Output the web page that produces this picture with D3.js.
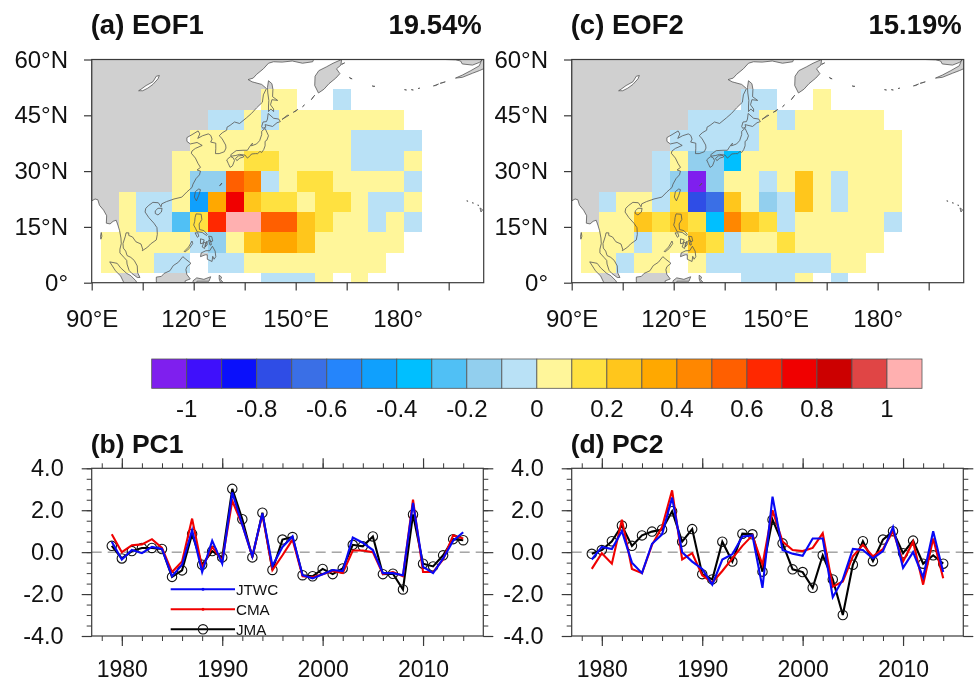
<!DOCTYPE html>
<html>
<head>
<meta charset="utf-8">
<script src="https://d3js.org/d3.v7.min.js"></script>
<style>
body { margin: 0; background: #fff; }
svg { filter: blur(0.4px); }
text { font-family: "Liberation Sans", Arial, sans-serif; fill: #111; }
</style>
</head>
<body>
<script>
const _ = null;

// colour levels of the shared label bar
const levels = [-1, -0.9, -0.8, -0.7, -0.6, -0.5, -0.4, -0.3, -0.2, -0.1, 0, 0.1, 0.2, 0.3, 0.4, 0.5, 0.6, 0.7, 0.8, 0.9, 1];
const levelColors = ["#7f1fee", "#3f10fb", "#0a10fb", "#2f4de6", "#3a6fe6", "#2585fb", "#10a0fd", "#00bfff", "#50c0f5", "#92cfee", "#b9e1f6",
  "#fff69a", "#ffe140", "#ffc61c", "#ffa800", "#ff8700", "#ff5f00", "#ff2800", "#f00000", "#cc0000", "#e04545", "#ffb0b0"];
const barLabels = [-1, -0.8, -0.6, -0.4, -0.2, 0, 0.2, 0.4, 0.6, 0.8, 1];

// EOF loadings, north to south, west to east
const eof1 = [
  [_, _, _, _, _, _, _, _, _, .05, .05, _, _, -.05, _, _, _, _],
  [_, _, _, _, _, _, -.05, -.05, .05, -.05, .05, .05, .05, .05, .05, .05, .05, _],
  [_, _, _, _, _, .05, .05, .05, .05, .05, .05, .05, .05, .05, -.05, -.05, -.05, -.05],
  [_, _, _, _, .05, .05, .05, .05, .15, .15, .05, .05, .05, .05, -.05, -.05, -.05, .05],
  [_, _, _, _, .05, -.15, -.15, .55, .45, -.05, .05, .15, .15, .05, .05, .05, .05, -.05],
  [_, .05, -.05, -.05, .05, -.45, .35, .75, .25, .15, .15, .05, .15, .15, .05, -.05, -.05, .05],
  [_, .05, -.05, -.05, -.25, .15, .65, 1.05, 1.05, .55, .55, .25, .15, .05, .05, -.05, .05, -.05],
  [.05, .05, .05, .05, .05, -.05, -.15, .05, .25, .35, .35, .25, .05, .05, .05, .05, .05, _],
  [.05, .05, .05, -.05, -.05, _, -.05, -.05, .05, .05, .05, .05, .05, .05, .05, .05, _, _],
  [_, _, _, _, _, _, _, _, _, -.05, -.05, -.05, .05, _, .05, _, _, _]
];
const eof2 = [
  [_, _, _, _, _, _, _, _, _, -.05, -.05, _, _, .05, _, _, _, _],
  [_, _, _, _, _, _, -.05, -.05, -.05, -.05, .05, -.05, .05, .05, .05, .05, .05, _],
  [_, _, _, _, _, -.05, -.05, -.05, -.05, -.05, .05, .05, .05, .05, .05, .05, .05, .05],
  [_, _, _, _, -.05, .05, -.15, -.15, -.35, .05, .05, .05, .05, .05, .05, .05, .05, .05],
  [_, _, _, _, -.05, -.15, -1.05, -.15, .05, .05, -.05, .05, .25, .05, -.05, .05, .05, .05],
  [_, -.05, .05, .05, -.05, .15, -.75, -.65, .25, .05, -.15, -.05, .25, .05, -.05, .05, .05, .05],
  [_, .05, .05, .25, .15, .25, .15, -.35, .45, .25, .15, -.05, .05, .05, .05, .05, .05, -.05],
  [.05, .05, .05, -.05, .05, .05, .25, .15, -.05, .05, .05, .15, .05, .05, .05, .05, .05, _],
  [.05, .05, -.05, .05, .05, _, .05, -.05, -.05, -.05, -.05, -.05, -.05, -.05, .05, .05, _, _],
  [_, _, _, _, _, _, _, _, _, -.05, -.05, -.05, .05, _, -.05, _, _, _]
];

// time series
const years = [1979, 1980, 1981, 1982, 1983, 1984, 1985, 1986, 1987, 1988, 1989, 1990, 1991, 1992, 1993, 1994, 1995, 1996, 1997, 1998, 1999, 2000, 2001, 2002, 2003, 2004, 2005, 2006, 2007, 2008, 2009, 2010, 2011, 2012, 2013, 2014];
const pc1Jma = [.3, -.3, .05, .2, .2, .15, -1.18, -.87, .87, -.6, .05, -.25, 3.02, 1.57, -.25, 1.88, -.85, .6, .72, -1.1, -1.15, -.8, -1.05, -.78, .35, .28, .75, -1.05, -1.03, -1.78, 1.8, -.55, -.68, -.15, .62, .57];
const pc1Cma = [.85, 0, .33, .37, .62, .2, -.95, -.45, 1.6, -.75, .25, -.4, 2.45, 1.3, -.2, 1.8, -.85, -.15, .6, -1.15, -1.2, -1.05, -.9, -1, .08, .08, 0, -1.05, -.95, -1.15, 2.5, -.95, -.95, -.35, .8, .65];
const pc1Jtwc = [.5, -.35, .1, -.05, .25, .15, -1.15, -.6, 1.05, -.95, .55, -.55, 2.85, 1.3, -.2, 1.85, -.65, .25, .75, -1.1, -1.25, -1.05, -.85, -.9, .7, .45, .1, -1, -1, -1.1, 2.35, -.7, -1, -.3, .55, .95];
const pc2Jma = [-.08, .1, .52, 1.27, .3, .8, .98, 1.08, 1.95, .5, 1.1, -1.05, -1.3, .5, -.45, .88, .85, -.93, 1.55, .42, -.82, -.95, -1.7, -.15, -1.3, -3, -.6, .52, -.43, .6, 1, -.05, .55, -.55, -.15, -.55];
const pc2Cma = [-.8, -.05, -.55, 1.55, -.8, -1, .35, 1.2, 2.95, -.35, -.05, -1.1, -1.45, -.9, -.3, .3, .8, -.6, 2, .5, .1, .05, .2, .9, -1.65, -1.4, -.2, .35, -.2, .15, 1, -.45, .5, -1.55, .65, -1.25];
const pc2Jtwc = [-.35, .25, .15, 1, -.5, -1, .4, .85, 2.6, 0, -.45, -.8, -1.55, -.35, -.1, .75, .8, -1.7, 2.65, .1, -.07, -.17, .65, .65, -2.15, -1.3, .15, .1, -.3, .05, 1.2, -.75, 0, -1.2, 1, -.95];

const lonTicks = [90, 105, 120, 135, 150, 165, 180, 195];
const lonLabels = { 90: "90°E", 120: "120°E", 150: "150°E", 180: "180°" };
const latTicks = [0, 15, 30, 45, 60];
const latLabels = { 0: "0°", 15: "15°N", 30: "30°N", 45: "45°N", 60: "60°N" };
const yearTicks = [1980, 1990, 2000, 2010];
const valueTicks = [-4, -2, 0, 2, 4];

// land, lon/lat
const landPolys = [
  // mainland asia
  [[90,60],[90,22],[91,22.5],[91.8,22.3],[92.3,20.8],[93.5,19.5],[94.4,18],[94.3,16],[95.4,15.8],[96.3,16.5],[97.2,16.8],[97.7,15.5],[98.2,14],[98.6,12],[98.7,10.5],[98.3,9],[98.3,8],[99.5,6.8],[100.3,6],[100.4,5],[101,3.3],[101.8,2.5],[103.4,1.4],[104.2,1.4],[103.5,2.7],[103.4,4.5],[102.5,6],[101.5,6.8],[100.4,7.3],[100,8.5],[99.3,9.3],[99.2,10.5],[99.9,12.5],[100.1,13.4],[100.9,13.4],[100.9,12.7],[102,12.3],[103,11],[104.5,10.4],[105,9],[104.9,8.6],[106.5,9.6],[107.3,10.4],[109,11.5],[109.3,13],[109.2,14.8],[108.3,16],[106.8,17.5],[105.7,19],[105.9,20],[106.8,20.8],[108,21.6],[109.6,21.5],[110.4,20.4],[110.6,21.2],[112,21.8],[113.6,22.3],[114.2,22.5],[116.5,23],[118,24.4],[119.5,25.6],[119.8,26.5],[120.7,28],[121.7,29],[122,30],[121,30.3],[122,31],[121.3,32],[120.5,33.5],[119.3,34.8],[119.5,35.4],[120.5,36.1],[122.5,36.9],[121,37.7],[119,37.3],[118,38],[118,39],[119.5,39.8],[121.3,40.8],[121.8,40],[121.2,38.8],[122.6,39.5],[124.3,40],[125,39.6],[125.4,38.6],[125,37.8],[126.5,37.5],[126.5,36],[126.4,34.7],[127.5,34.7],[129,35.2],[129.5,36.2],[129.4,37],[128.3,38.8],[127.5,39.5],[128.4,40.3],[129.7,41],[129.8,41.8],[130.7,42.3],[132,43.2],[133.5,42.8],[135.5,44.3],[137,45.5],[138.5,47],[140.2,48.5],[140.5,50.5],[141.4,52.2],[140,53.3],[138,53.8],[137.2,54],[136,54.6],[137.5,55],[138.5,56],[140.5,57.5],[142,59],[143.5,59.4],[146,59.3],[149,59.6],[152,59],[155,59.4],[155.5,60.5],[90,60.5]],
  // kamchatka
  [[163.5,60],[161,59],[159,58],[156.8,57],[155.7,55.5],[155.6,53],[156.7,51],[158.3,52],[159.8,53.5],[161.8,55],[163,56.2],[162,57.5],[163.3,58.5],[163.5,60]],
  // alaska
  [[194,60.5],[194,60],[197,59.9],[198.5,59.6],[199,58.8],[202,58.5],[204,59.2],[205,60],[206,60],[206,57.8],[204,57],[202,56.3],[199,55.2],[197,55],[199,55.8],[201.5,57],[204,58.3],[205,60.5]],
  // sakhalin, japan, taiwan and the rest of the islands
  [[142,54.3],[143,53.5],[143.3,52],[143.2,50],[144.7,49],[143,49.2],[142.6,47.8],[143.5,46.7],[143.5,46],[142.7,46.7],[142,46],[142,47.5],[142.1,49],[141.8,51],[141.7,52.5]],
  [[140.3,41.5],[141.2,41.8],[141,42.5],[143.2,42],[144.5,43],[145.5,43.3],[145,44],[143.5,44.2],[141.9,45.5],[141.7,44],[141.4,43.3],[140.4,43.2],[140,42]],
  [[141,41.5],[141.5,40.5],[142,39.5],[141.5,38.3],[141,38],[141,36.8],[140.6,35.8],[140,35],[139.5,35.3],[138.8,34.7],[138.2,34.7],[137,34.6],[136.8,34.3],[135.8,33.5],[135.1,34.3],[133.5,34.5],[132.4,34.2],[131,34],[130.9,34.4],[132.5,35.5],[134.5,35.6],[135.8,35.6],[136.2,36.2],[136.8,37],[137.3,37.5],[137,36.8],[138.5,37.3],[139.4,38.2],[140,39.8],[140,40.7]],
  [[130.9,33.9],[131.7,33.5],[132,32.8],[131.4,31.4],[130.7,31],[130.2,32],[129.7,33],[130.4,33.6]],
  [[132.3,33.4],[132.7,32.8],[133.6,33.5],[134.7,33.8],[134.5,34.2],[133.2,34.1]],
  [[121.5,25.2],[122,25],[121.5,23.5],[120.8,22],[120.2,23],[120.5,24.5]],
  [[108.7,19.3],[109.5,20],[110.7,20],[110.5,19],[109.5,18.2],[108.7,18.6]],
  [[120.7,18.5],[122.2,18.4],[122.4,17],[121.6,15.8],[121.7,14.3],[123,14],[124,13],[123.8,12.7],[122.5,13.5],[121,13.7],[120.6,14.5],[120,15.5],[120.3,16.5],[120.4,17.5]],
  [[120.4,13.4],[121.2,13.4],[121.5,12.5],[121.1,12.2]],
  [[124.4,12.5],[125.3,12.4],[125.6,11.2],[125,11]],
  [[124.4,11.4],[125,11.2],[125.2,10.2],[124.8,10.1]],
  [[122,11.8],[123.1,11.5],[122.7,10.6],[122,10.5]],
  [[123,10.9],[123.5,10.8],[123.2,9.2],[122.5,9.6]],
  [[123.9,11.2],[124,10.2],[123.4,9.6]],
  [[123.6,8.6],[124.7,8.6],[125.5,9.8],[126.3,8.5],[126.5,7],[126,6.3],[125.6,7.1],[125.4,5.7],[124,6.3],[124,7.5],[123.4,7.5],[122,7],[122.2,8]],
  [[117.2,8.4],[118.5,9.6],[119.5,11.2],[119.7,10.5],[118.7,9.2],[117.5,8.3]],
  [[109,1.5],[110.5,1.7],[111.3,2.5],[113,3.2],[114,4.6],[115.5,5.5],[116.8,7],[117.7,6.3],[119.2,5.2],[118,4.3],[117.7,3.5],[118,2.2],[119,1],[117.5,.5],[117.4,-1],[109.2,-1],[109,.5]],
  [[95.3,5.6],[97.5,5.2],[98.5,4],[100.3,2.5],[101.5,1.9],[103,.5],[103.8,-1],[100,-1],[98.5,1.8],[97,3.2]],
  [[119.8,-1],[119.8,.5],[120.9,1.3],[123,.9],[125,1.6],[124.5,.4],[121,.4],[120,-1]],
  [[127.5,2],[128.2,1.5],[127.9,.8],[128.5,.3],[127.9,0],[127.5,1]],
  [[127.6,26.1],[128.3,26.8],[127.9,26.2]],
  [[92.8,13.5],[93,12.5],[92.7,11.7],[92.6,12.5]],
  [[146,43.9],[147.5,45],[148,45]],[[149.3,45.8],[150.6,46.6],[150.2,46.2]],[[152,47.3],[152.6,47.8]],[[154.6,49.2],[155.6,50.4],[155.2,50]],
  [[165.8,55.2],[166.6,54.8],[166,54.9]],[[163.5,58.7],[164.4,59.1],[164,58.9]],
  [[172.5,52.9],[173.3,52.8],[173,52.7]],[[182,51.9],[182.6,51.8]],[[184,51.9],[184.6,51.8]],[[186,52.2],[186.5,52.3]],[[190.5,52.9],[192,53.4],[191.2,53]],[[192.5,53.6],[194,54],[193,53.7]],
  [[200.3,22],[200.7,21.9]],[[201.9,21.5],[202.3,21.4]],[[203.5,20.9],[203.9,20.8],[203.7,20.7]],[[204.2,20.1],[205,19.6],[204.5,19]]
];
const lake = [[103.8,51.6],[105,51.6],[106.5,52.3],[108,53.3],[109.5,54.8],[109.9,55.7],[109,55.5],[108,54],[106,53],[104.5,52]];

// grid of the eof maps, western and northern edges of the first cell
const cellLon0 = 92.65, cellLonStep = 5.25;
const cellLat0 = 52, cellLatStep = 5.5;

const width = 975, height = 682;
const svg = d3.select("body").append("svg").attr("width", width).attr("height", height).style("display", "block");

const color = d3.scaleThreshold().domain(levels).range(levelColors);
const darkLine = "#3a3a3a";

function strokeAxis(g, w) {
  g.select(".domain").remove();
  g.selectAll("line").attr("stroke", darkLine).attr("stroke-width", w);
}

function drawMap(left, data, title, pct, id) {
  const lon = d3.scaleLinear().domain([90, 205.3]).range([left, left + 392]);
  const lat = d3.scaleLinear().domain([0, 60]).range([282.7, 59.5]);
  const g = svg.append("g");
  g.append("clipPath").attr("id", id).append("rect")
    .attr("x", left).attr("y", 59.5).attr("width", 392).attr("height", 223.2);
  const coast = d3.line().x(d => lon(d[0])).y(d => lat(d[1])).curve(d3.curveLinearClosed);
  const m = g.append("g").attr("clip-path", `url(#${id})`);

  m.selectAll(".land").data(landPolys).enter().append("path").attr("class", "land")
    .attr("d", coast).attr("fill", "#d0d0d0");
  m.append("path").attr("d", coast(lake)).attr("fill", "#fff");

  data.forEach((row, r) => {
    row.forEach((v, c) => {
      if (v === null) return;
      const west = cellLon0 + c * cellLonStep, north = cellLat0 - r * cellLatStep;
      m.append("rect")
        .attr("x", lon(west)).attr("y", lat(north))
        .attr("width", lon(west + cellLonStep) - lon(west))
        .attr("height", lat(north - cellLatStep) - lat(north))
        .attr("fill", color(v)).attr("shape-rendering", "crispEdges");
    });
  });

  m.selectAll(".coast").data(landPolys).enter().append("path").attr("class", "coast")
    .attr("d", coast).attr("fill", "none").attr("stroke", "#555").attr("stroke-width", 0.8);
  m.append("path").attr("d", coast(lake)).attr("fill", "none").attr("stroke", "#555").attr("stroke-width", 0.8);

  g.append("rect").attr("x", left).attr("y", 59.5).attr("width", 392).attr("height", 223.2)
    .attr("fill", "none").attr("stroke", darkLine).attr("stroke-width", 1.2);

  const ax = g.append("g").attr("transform", "translate(0,282.7)")
    .call(d3.axisBottom(lon).tickValues(lonTicks).tickSize(7.7).tickPadding(20).tickFormat(d => lonLabels[d] || ""));
  strokeAxis(ax, 1.2);
  ax.selectAll("text").attr("font-size", 24);
  const ay = g.append("g").attr("transform", `translate(${left},0)`)
    .call(d3.axisLeft(lat).tickValues(latTicks).tickSize(7.7).tickPadding(16).tickFormat(d => latLabels[d]));
  strokeAxis(ay, 1.2);
  ay.selectAll("text").attr("font-size", 24);

  g.append("text").attr("x", left - 1).attr("y", 33.5).attr("font-size", 27.5).attr("font-weight", "bold").text(title);
  g.append("text").attr("x", left + 390).attr("y", 33.5).attr("text-anchor", "end").attr("font-size", 27.5).attr("font-weight", "bold").text(pct);
}

function drawSeries(left, jma, cma, jtwc, title, withLegend) {
  const x = d3.scaleLinear().domain([1977, 2016]).range([left, left + 391.6]);
  const y = d3.scaleLinear().domain([-4, 4]).range([636, 468.3]);
  const g = svg.append("g");
  const bottom = y(-4), top = y(4), right = left + 391.6;

  g.append("line").attr("x1", left).attr("x2", right).attr("y1", y(0)).attr("y2", y(0))
    .attr("stroke", "#777").attr("stroke-width", 1).attr("stroke-dasharray", "10 6");

  // minor ticks first so the major ones sit over them
  const minorX = d3.range(1978, 2016, 2), minorY = d3.range(-4, 4.01, 0.5);
  [[d3.axisBottom(x), bottom], [d3.axisTop(x), top]].forEach(([a, pos]) => {
    strokeAxis(g.append("g").attr("transform", `translate(0,${pos})`).call(a.tickValues(minorX).tickSize(5).tickFormat("")), 1);
    strokeAxis(g.append("g").attr("transform", `translate(0,${pos})`).call(a.tickValues(yearTicks).tickSize(10).tickFormat("")), 1.2);
  });
  [[d3.axisLeft(y), left], [d3.axisRight(y), right]].forEach(([a, pos]) => {
    strokeAxis(g.append("g").attr("transform", `translate(${pos},0)`).call(a.tickValues(minorY).tickSize(5).tickFormat("")), 1);
    strokeAxis(g.append("g").attr("transform", `translate(${pos},0)`).call(a.tickValues(valueTicks).tickSize(10).tickFormat("")), 1.2);
  });

  // pulled up a little so the labels stay inside the page
  const xl = g.append("g").attr("transform", `translate(0,${bottom})`)
    .call(d3.axisBottom(x).tickValues(yearTicks).tickSize(0).tickPadding(24.5).tickFormat(d3.format("d")));
  xl.select(".domain").remove();
  xl.selectAll("text").attr("font-size", 23);
  const yl = g.append("g").attr("transform", `translate(${left},0)`)
    .call(d3.axisLeft(y).tickValues(valueTicks).tickSize(0).tickPadding(28).tickFormat(d => d.toFixed(1)));
  yl.select(".domain").remove();
  yl.selectAll("text").attr("font-size", 23.5);

  const line = d3.line().x((d, i) => x(years[i])).y(d => y(d));
  g.append("path").attr("d", line(jma)).attr("fill", "none").attr("stroke", "#000").attr("stroke-width", 2.1);
  g.selectAll(".mark").data(jma).enter().append("circle").attr("class", "mark")
    .attr("cx", (d, i) => x(years[i])).attr("cy", d => y(d)).attr("r", 4.7)
    .attr("fill", "none").attr("stroke", "#111").attr("stroke-width", 1.1);
  g.append("path").attr("d", line(cma)).attr("fill", "none").attr("stroke", "#f00000").attr("stroke-width", 2.1);
  g.append("path").attr("d", line(jtwc)).attr("fill", "none").attr("stroke", "#0808f5").attr("stroke-width", 2.1);

  g.append("rect").attr("x", left).attr("y", top).attr("width", right - left).attr("height", bottom - top)
    .attr("fill", "none").attr("stroke", darkLine).attr("stroke-width", 1.2);

  g.append("text").attr("x", left - 1).attr("y", 453).attr("font-size", 26.5).attr("font-weight", "bold").text(title);

  if (withLegend) {
    legendNames.forEach((name, i) => {
      const ly = 589.3 + i * 20;
      g.append("line").attr("x1", 170.7).attr("x2", 235).attr("y1", ly).attr("y2", ly)
        .attr("stroke", legendColors[i]).attr("stroke-width", 1.9);
      if (name === "JMA") {
        g.append("circle").attr("cx", 203).attr("cy", ly).attr("r", 4.7).attr("fill", "none").attr("stroke", "#111").attr("stroke-width", 1.1);
      } else {
        g.append("circle").attr("cx", 203).attr("cy", ly).attr("r", 1.5).attr("fill", legendColors[i]);
      }
      g.append("text").attr("x", 236).attr("y", ly + 5.5).attr("font-size", 15.2).text(name);
    });
  }
}

const legendNames = ["JTWC", "CMA", "JMA"];
const legendColors = ["#0808f5", "#f00000", "#000"];

drawMap(91.7, eof1, "(a) EOF1", "19.54%", "clipA");
drawMap(571.7, eof2, "(c) EOF2", "15.19%", "clipC");

// label bar
const barX = d3.scaleLinear().domain([-1.1, 1.1]).range([151.7, 922]);
const barEdges = [-1.1].concat(levels);
svg.selectAll(".bin").data(levelColors).enter().append("rect").attr("class", "bin")
  .attr("x", (d, i) => barX(barEdges[i])).attr("y", 359)
  .attr("width", (d, i) => barX(barEdges[i] + 0.1) - barX(barEdges[i])).attr("height", 29.3)
  .attr("fill", d => d).attr("stroke", "#555").attr("stroke-width", 0.8);
svg.selectAll(".binLabel").data(barLabels).enter().append("text").attr("class", "binLabel")
  .attr("x", d => barX(d)).attr("y", 417).attr("text-anchor", "middle").attr("font-size", 24)
  .text(d => d);

drawSeries(91.7, pc1Jma, pc1Cma, pc1Jtwc, "(b) PC1", true);
drawSeries(571.7, pc2Jma, pc2Cma, pc2Jtwc, "(d) PC2", false);
</script>
</body>
</html>
